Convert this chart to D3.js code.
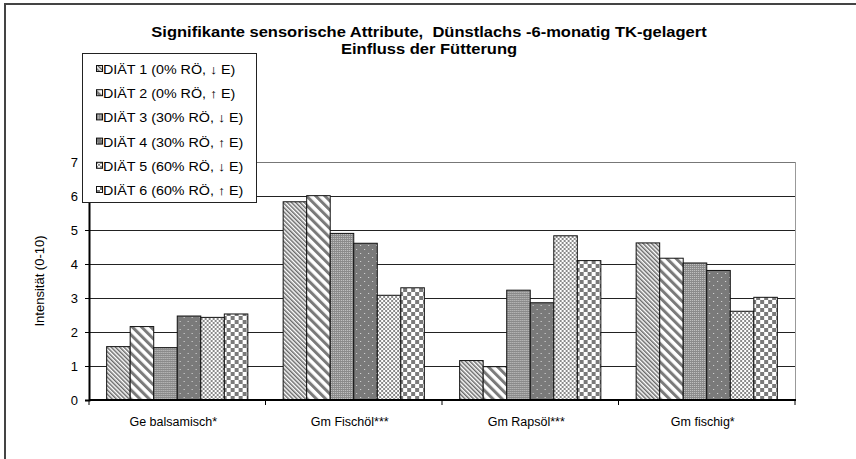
<!DOCTYPE html>
<html>
<head>
<meta charset="utf-8">
<script src="https://cdn.jsdelivr.net/npm/d3@7"></script>
<style>
  body { margin: 0; background: #fff; }
  svg { display: block; font-family: "Liberation Sans", Arial, sans-serif; }
</style>
</head>
<body>
<svg id="chart" width="856" height="459"></svg>
<script>
// Chart data
const categories = ["Ge balsamisch*", "Gm Fischöl***", "Gm Rapsöl***", "Gm fischig*"];
const diets = [
    "DIÄT 1 (0% RÖ, ↓ E)",
    "DIÄT 2 (0% RÖ, ↑ E)",
    "DIÄT 3 (30% RÖ, ↓ E)",
    "DIÄT 4 (30% RÖ, ↑ E)",
    "DIÄT 5 (60% RÖ, ↓ E)",
    "DIÄT 6 (60% RÖ, ↑ E)"
];
// one array per diet, values per category
const diet1 = [1.57, 5.83, 1.16, 4.62];
const diet2 = [2.16, 6.01, 0.98, 4.17];
const diet3 = [1.54, 4.90, 3.23, 4.03];
const diet4 = [2.47, 4.61, 2.86, 3.81];
const diet5 = [2.43, 3.08, 4.83, 2.61];
const diet6 = [2.53, 3.30, 4.10, 3.02];
const yTicks = [0, 1, 2, 3, 4, 5, 6, 7];

const series = [diet1, diet2, diet3, diet4, diet5, diet6];

const svg = d3.select("#chart");
const plot = { left: 89, right: 795, top: 162, bottom: 400 };

// Outer chart border (only left/top visible in the picture)
svg.append("rect")
    .attr("x", 5).attr("y", 4)
    .attr("width", 900).attr("height", 500)
    .attr("fill", "#fff")
    .attr("stroke", "#444")
    .attr("stroke-width", 2);

// Fill patterns
const defs = svg.append("defs");

function stripes(id, size, width, color) {
    const p = defs.append("pattern")
        .attr("id", id)
        .attr("patternUnits", "userSpaceOnUse")
        .attr("width", size).attr("height", size)
        .attr("patternTransform", "rotate(-45)");
    p.append("rect").attr("width", size).attr("height", size).attr("fill", "#fff");
    p.append("rect").attr("width", width).attr("height", size).attr("fill", color);
}
stripes("p1", 3, 1.5, "#6a6a6a");
stripes("p2", 6.5, 3, "#7a7a7a");

// fine mesh
let p3 = defs.append("pattern").attr("id", "p3")
    .attr("patternUnits", "userSpaceOnUse").attr("width", 2).attr("height", 2);
p3.append("rect").attr("width", 2).attr("height", 2).attr("fill", "#8a8a8a");
p3.append("rect").attr("width", 1).attr("height", 1).attr("fill", "#c8c8c8");

// dark with sparse dots
let p4 = defs.append("pattern").attr("id", "p4")
    .attr("patternUnits", "userSpaceOnUse").attr("width", 8).attr("height", 8);
p4.append("rect").attr("width", 8).attr("height", 8).attr("fill", "#7a7a7a");
p4.append("rect").attr("x", 1).attr("y", 1).attr("width", 1).attr("height", 1).attr("fill", "#ddd");
p4.append("rect").attr("x", 5).attr("y", 5).attr("width", 1).attr("height", 1).attr("fill", "#ddd");

// small checkerboard
let p5 = defs.append("pattern").attr("id", "p5")
    .attr("patternUnits", "userSpaceOnUse").attr("width", 4).attr("height", 4);
p5.append("rect").attr("width", 4).attr("height", 4).attr("fill", "#fff");
p5.append("rect").attr("width", 2).attr("height", 2).attr("fill", "#8a8a8a");
p5.append("rect").attr("x", 2).attr("y", 2).attr("width", 2).attr("height", 2).attr("fill", "#8a8a8a");

// large checkerboard
let p6 = defs.append("pattern").attr("id", "p6")
    .attr("patternUnits", "userSpaceOnUse").attr("width", 8).attr("height", 8);
p6.append("rect").attr("width", 8).attr("height", 8).attr("fill", "#fff");
p6.append("rect").attr("width", 4).attr("height", 4).attr("fill", "#7a7a7a");
p6.append("rect").attr("x", 4).attr("y", 4).attr("width", 4).attr("height", 4).attr("fill", "#7a7a7a");

const fills = ["url(#p1)", "url(#p2)", "url(#p3)", "url(#p4)", "url(#p5)", "url(#p6)"];

// Scales
const x0 = d3.scaleBand()
    .domain(categories)
    .range([plot.left, plot.right])
    .paddingInner(0.2)
    .paddingOuter(0.1);
const x1 = d3.scaleBand()
    .domain(d3.range(diets.length))
    .range([0, x0.bandwidth()]);
const y = d3.scaleLinear().domain([0, 7]).range([plot.bottom, plot.top]);

// Gridlines
svg.append("g")
    .selectAll("line")
    .data(yTicks.filter(t => t > 0))
    .join("line")
    .attr("x1", plot.left).attr("x2", plot.right)
    .attr("y1", d => Math.round(y(d)) + 0.5).attr("y2", d => Math.round(y(d)) + 0.5)
    .attr("stroke", d => d === 7 ? "#777" : "#222")
    .attr("stroke-width", 1);

// right plot border
svg.append("line")
    .attr("x1", plot.right + 0.5).attr("x2", plot.right + 0.5)
    .attr("y1", y(7)).attr("y2", plot.bottom)
    .attr("stroke", "#999");

// Bars
const groups = svg.append("g")
    .selectAll("g")
    .data(categories)
    .join("g")
    .attr("transform", d => `translate(${x0(d)},0)`);

groups.selectAll("rect")
    .data((d, ci) => series.map((s, si) => ({ si, v: s[ci] })))
    .join("rect")
    .attr("x", d => x1(d.si))
    .attr("y", d => y(d.v))
    .attr("width", x1.bandwidth())
    .attr("height", d => y(0) - y(d.v))
    .attr("fill", d => fills[d.si])
    .attr("stroke", "#111")
    .attr("stroke-width", 1);

// Y axis
const yAxis = d3.axisLeft(y).tickValues(yTicks).tickSize(4).tickPadding(7).tickFormat(d3.format("d"));
const yg = svg.append("g")
    .attr("transform", `translate(${plot.left},0)`)
    .call(yAxis);
yg.select(".domain").attr("stroke", "#000").attr("stroke-width", 2);
yg.selectAll("text").attr("font-size", 13).attr("fill", "#000");

// X axis with ticks at category boundaries
const xg = svg.append("g").attr("transform", `translate(0,${plot.bottom})`);
xg.append("line")
    .attr("x1", plot.left).attr("x2", plot.right + 1)
    .attr("y1", 0).attr("y2", 0)
    .attr("stroke", "#000").attr("stroke-width", 2);
const step = x0.step();
xg.selectAll("line.tick")
    .data(d3.range(categories.length + 1))
    .join("line")
    .attr("class", "tick")
    .attr("x1", i => plot.left + i * step).attr("x2", i => plot.left + i * step)
    .attr("y1", 0).attr("y2", 5)
    .attr("stroke", "#000");
xg.selectAll("text")
    .data(categories)
    .join("text")
    .attr("x", d => x0(d) + x0.bandwidth() / 2 - 4)
    .attr("y", 26)
    .attr("text-anchor", "middle")
    .attr("font-size", 12.5)
    .text(d => d);

// Y axis title
svg.append("text")
    .attr("transform", `translate(44,${(plot.top + plot.bottom) / 2}) rotate(-90)`)
    .attr("text-anchor", "middle")
    .attr("font-size", 13)
    .text("Intensität (0-10)");

// Title (slightly stretched horizontally like the original)
const titleLines = ["Signifikante sensorische Attribute,\u00a0 Dünstlachs -6-monatig TK-gelagert", "Einfluss der Fütterung"];
svg.append("g")
    .selectAll("text")
    .data(titleLines)
    .join("text")
    .attr("transform", (d, i) => `translate(429,${37 + i * 16.5}) scale(1.14,1)`)
    .attr("text-anchor", "middle")
    .attr("font-size", 14.5).attr("font-weight", "bold")
    .text(d => d);

// Legend
const legend = svg.append("g").attr("transform", "translate(82,53)");
legend.append("rect")
    .attr("x", 0.5).attr("y", 0.5)
    .attr("width", 174).attr("height", 149)
    .attr("fill", "#fff")
    .attr("stroke", "#222");
const items = legend.selectAll("g.item")
    .data(diets)
    .join("g")
    .attr("class", "item")
    .attr("transform", (d, i) => `translate(14,${16 + i * 24.2})`);
items.append("rect")
    .attr("x", 0.5).attr("y", -3.5)
    .attr("width", 6).attr("height", 6)
    .attr("fill", (d, i) => fills[i])
    .attr("stroke", "#111");
items.append("text")
    .attr("transform", "translate(7,5) scale(1.1,1)")
    .attr("font-size", 13)
    .text(d => d);
</script>
</body>
</html>
